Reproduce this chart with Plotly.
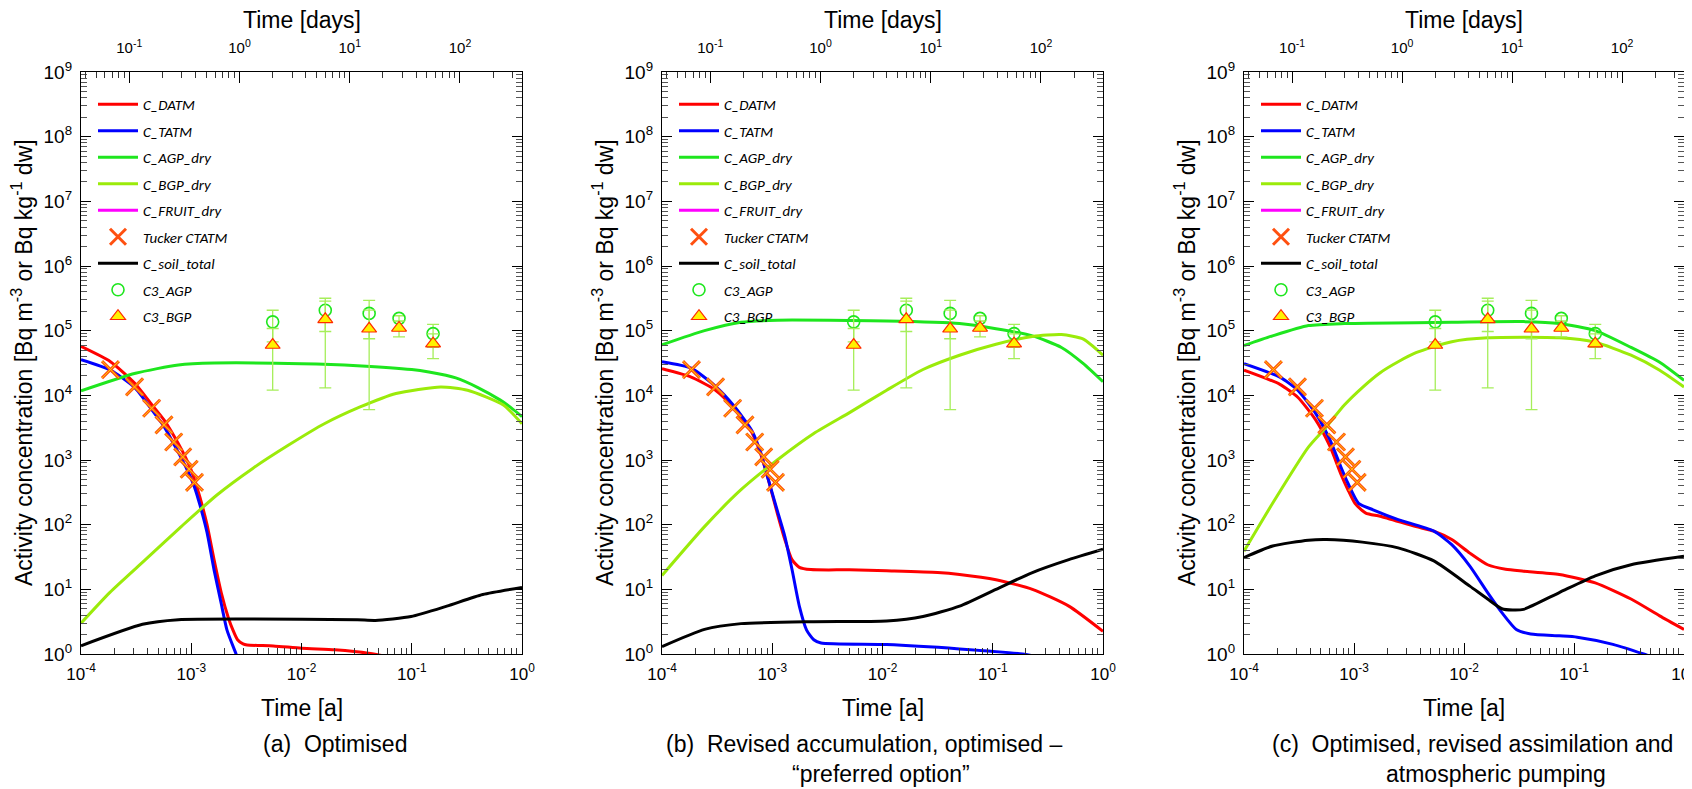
import math
import plotly.graph_objects as go

# ---------------- data ----------------
# measured plant data (time in days)
sample_days = [2, 6, 15, 28, 57]
c3_agp = [1.37e5, 2.07e5, 1.85e5, 1.55e5, 9.0e4]
c3_agp_err = [7.0e4, 1.1e5, 1.1e5, 1.5e4, 3.5e4]
c3_bgp = [6.0e4, 1.5e5, 1.07e5, 1.1e5, 6.3e4]
c3_bgp_err = [4.8e4, 1.37e5, 1.01e5, 3.0e4, 2.6e4]

# Tucker CTATM (time in years)
tucker_t = [1.85e-4, 3.06e-4, 4.37e-4, 5.66e-4, 6.93e-4, 8.36e-4, 9.57e-4, 1.07e-3]
tucker_c = [2.5e4, 1.35e4, 6.3e3, 3.5e3, 1.9e3, 1.12e3, 7.2e2, 4.5e2]

# ---- panel (a) Optimised ----
a_datm_t = [1e-4, 1.85e-4, 3.06e-4, 4.37e-4, 5.66e-4, 6.93e-4, 8.36e-4, 9.57e-4, 1.07e-3, 1.20e-3,
            1.39e-3, 1.61e-3, 1.87e-3, 2.18e-3, 2.39e-3, 2.63e-3, 2.95e-3, 3.21e-3, 5.56e-3, 1.0e-2,
            2.0e-2, 3.16e-2, 4.52e-2, 5.62e-2]
a_datm = [5.7e4, 3.31e4, 1.55e4, 7.24e3, 4.17e3, 2.40e3, 1.35e3, 832, 501, 263,
          100, 28.8, 8.91, 3.55, 2.34, 1.66, 1.43, 1.38, 1.33, 1.23,
          1.16, 1.08, 1.0, 0.93]
a_tatm_t = [1e-4, 1.85e-4, 3.06e-4, 4.37e-4, 5.66e-4, 6.93e-4, 8.36e-4, 9.57e-4, 1.07e-3, 1.20e-3,
            1.39e-3, 1.61e-3, 1.87e-3, 2.11e-3, 2.55e-3, 2.82e-3]
a_tatm = [3.55e4, 2.45e4, 1.32e4, 6.03e3, 3.31e3, 1.78e3, 977, 603, 380, 200,
          75.9, 20.0, 6.03, 2.34, 1.0, 0.63]
a_agp_t = [1e-4, 3.12e-4, 7.64e-4, 1.61e-3, 1.0e-2, 3.21e-2, 0.1, 0.143, 0.251, 0.398, 0.631, 0.794, 1.0]
a_agp = [1.17e4, 2.19e4, 2.95e4, 3.16e4, 3.09e4, 2.88e4, 2.51e4, 2.29e4, 1.86e4, 1.32e4, 8.51e3, 6.46e3, 4.68e3]
a_bgp_t = [1e-4, 1.82e-4, 3.84e-4, 8.11e-4, 1.71e-3, 3.61e-3, 7.64e-3, 1.61e-2, 3.40e-2, 7.19e-2,
           0.183, 0.321, 0.678, 1.0]
a_bgp = [3.0, 8.91, 28.8, 93.3, 288, 741, 1.70e3, 3.63e3, 6.61e3, 1.07e4,
         1.35e4, 1.20e4, 7.08e3, 3.63e3]
a_soil_t = [1e-4, 3.61e-4, 7.64e-4, 3.40e-3, 3.21e-2, 4.68e-2, 9.86e-2, 0.208, 0.440, 1.0]
a_soil = [1.34, 2.88, 3.39, 3.47, 3.39, 3.31, 3.80, 5.50, 8.32, 10.7]

# ---- panel (b) Revised accumulation, optimised ----
b_datm_t = [1e-4, 1.84e-4, 3.06e-4, 4.48e-4, 6.55e-4, 7.91e-4, 9.20e-4, 1.11e-3, 1.30e-3, 1.51e-3,
            1.76e-3, 2.24e-3, 5.01e-3, 1.09e-2, 3.16e-2, 5.0e-2, 0.107, 0.229, 0.490, 1.0]
b_datm = [2.57e4, 1.91e4, 1.20e4, 6.31e3, 2.63e3, 1.20e3, 501, 151, 58.9, 28.8,
          21.9, 20.2, 20.0, 19.3, 18.2, 17.0, 14.1, 10.0, 5.50, 2.24]
b_tatm_t = [1e-4, 1.84e-4, 3.06e-4, 4.48e-4, 6.55e-4, 7.91e-4, 9.20e-4, 1.11e-3, 1.30e-3, 1.51e-3,
            1.76e-3, 2.05e-3, 2.38e-3, 2.77e-3, 1.09e-2, 5.0e-2, 0.187, 0.251]
b_tatm = [3.31e4, 2.63e4, 1.38e4, 6.92e3, 2.82e3, 1.26e3, 501, 166, 66.1, 20.4,
          5.50, 2.34, 1.66, 1.48, 1.40, 1.20, 1.0, 0.91]
b_agp_t = [1e-4, 2.43e-4, 5.21e-4, 1.11e-3, 1.09e-2, 5.0e-2, 0.107, 0.229, 0.420, 0.664, 1.0]
b_agp = [6.03e4, 1.0e5, 1.35e5, 1.45e5, 1.41e5, 1.29e5, 1.07e5, 8.32e4, 5.50e4, 3.09e4, 1.62e4]
b_bgp_t = [1e-4, 2.43e-4, 5.21e-4, 1.11e-3, 2.38e-3, 5.11e-3, 1.09e-2, 2.33e-2, 5.0e-2, 0.107,
           0.229, 0.420, 0.664, 1.0]
b_bgp = [16.4, 93.3, 347, 1.0e3, 2.57e3, 5.50e3, 1.20e4, 2.51e4, 4.17e4, 6.17e4,
         8.13e4, 8.71e4, 7.41e4, 4.17e4]
b_soil_t = [1e-4, 2.43e-4, 5.21e-4, 2.38e-3, 1.09e-2, 2.33e-2, 5.0e-2, 0.107, 0.229, 0.490, 1.0]
b_soil = [1.30, 2.40, 2.95, 3.16, 3.24, 3.80, 5.50, 10.0, 18.2, 28.8, 41.7]

# ---- panel (c) Optimised, revised assimilation and atmospheric pumping ----
c_datm_t = [1e-4, 2.12e-4, 3.08e-4, 4.48e-4, 6.05e-4, 7.57e-4, 8.81e-4, 1.02e-3, 1.28e-3, 1.73e-3,
            3.66e-3, 5.32e-3, 7.74e-3, 1.13e-2, 1.64e-2, 2.39e-2, 3.48e-2, 7.35e-2, 0.156, 0.330,
            0.601, 1.0]
c_datm = [2.45e4, 1.48e4, 9.33e3, 4.17e3, 1.62e3, 617, 347, 214, 151, 135,
          93.3, 79.4, 58.9, 36.3, 24.0, 20.4, 19.1, 17.0, 12.6, 7.08,
          3.89, 2.40]
c_tatm_t = [1e-4, 2.12e-4, 3.08e-4, 4.48e-4, 6.05e-4, 7.57e-4, 8.81e-4, 1.10e-3, 1.49e-3, 2.52e-3,
            5.32e-3, 7.74e-3, 1.13e-2, 1.64e-2, 2.21e-2, 2.99e-2, 4.04e-2, 7.35e-2, 0.107, 0.226,
            0.429, 0.501]
c_tatm = [3.09e4, 1.91e4, 1.20e4, 5.25e3, 2.04e3, 794, 437, 214, 170, 120,
          79.4, 49.0, 22.9, 8.91, 4.37, 2.40, 2.04, 1.91, 1.82, 1.41,
          1.0, 0.91]
c_agp_t = [1e-4, 1.82e-4, 3.85e-4, 8.17e-4, 7.74e-3, 3.48e-2, 7.35e-2, 0.156, 0.330, 0.601, 1.0]
c_agp = [5.89e4, 8.32e4, 1.20e5, 1.29e5, 1.35e5, 1.38e5, 1.29e5, 1.0e5, 5.50e4, 3.24e4, 1.70e4]
c_bgp_t = [1e-4, 1.82e-4, 3.85e-4, 5.53e-4, 8.17e-4, 1.19e-3, 1.73e-3, 2.52e-3, 3.66e-3, 7.74e-3,
           1.64e-2, 7.35e-2, 0.156, 0.330, 0.601, 1.0]
c_bgp = [38.9, 214, 1.58e3, 3.16e3, 7.08e3, 1.32e4, 2.24e4, 3.31e4, 4.57e4, 6.76e4,
         7.76e4, 7.76e4, 6.61e4, 4.17e4, 2.45e4, 1.35e4]
c_soil_t = [1e-4, 1.82e-4, 3.85e-4, 5.61e-4, 1.19e-3, 2.52e-3, 5.32e-3, 1.13e-2, 1.64e-2, 2.21e-2,
            2.77e-2, 3.48e-2, 7.35e-2, 0.156, 0.330, 1.0]
c_soil = [30.9, 46.8, 57.5, 58.9, 53.7, 43.7, 27.5, 11.2, 7.08, 5.01,
          4.79, 4.90, 8.91, 16.2, 24.0, 32.4]

captions = [
    ["(a)  Optimised"],
    ["(b)  Revised accumulation, optimised \u2013", "\u201cpreferred option\u201d"],
    ["(c)  Optimised, revised assimilation and", "atmospheric pumping"],
]

x_tick_vals = [1e-4, 1e-3, 1e-2, 1e-1, 1]
x_tick_text = ["10<sup>-4</sup>", "10<sup>-3</sup>", "10<sup>-2</sup>", "10<sup>-1</sup>", "10<sup>0</sup>"]
y_tick_vals = [1, 10, 1e2, 1e3, 1e4, 1e5, 1e6, 1e7, 1e8, 1e9]
y_tick_text = ["10<sup>%d</sup>" % k for k in range(10)]
d_tick_vals = [0.1, 1, 10, 100]
d_tick_text = ["10<sup>-1</sup>", "10<sup>0</sup>", "10<sup>1</sup>", "10<sup>2</sup>"]

# ---------------- styling / layout ----------------
W, H = 1692, 789
OFF = 8  # page offset of the plot div (body margin); positions below are page pixels
PANEL_X = [(81, 522), (662, 1103), (1244, 1684)]
TOP, BOT = 72, 654
CAP_X = [[335], [864, 881], [1472, 1496]]
CAP_Y = [744, 774]
FN = "Liberation Sans Narrow, Arial Narrow, Liberation Sans, Arial, sans-serif"
FR = "Liberation Sans, Arial, sans-serif"
FL = "Carlito, Lato, Open Sans, sans-serif"

COL = dict(datm="#FF0000", tatm="#0000FF", agp="#1EE61E", bgp="#9BEB0A", fruit="#FF00FF", soil="#000000")
ERR = "#A6EE5A"

x_minor = [m * 10.0 ** e for e in range(-4, 0) for m in range(2, 10)]
y_minor = [m * 10.0 ** e for e in range(0, 9) for m in range(2, 10)]
d_minor = [v for v in (m * 10.0 ** e for e in range(-2, 3) for m in range(2, 10)) if 0.0365 <= v <= 365.25]

panel_series = [
    (a_datm_t, a_datm, a_tatm_t, a_tatm, a_agp_t, a_agp, a_bgp_t, a_bgp, a_soil_t, a_soil),
    (b_datm_t, b_datm, b_tatm_t, b_tatm, b_agp_t, b_agp, b_bgp_t, b_bgp, b_soil_t, b_soil),
    (c_datm_t, c_datm, c_tatm_t, c_tatm, c_agp_t, c_agp, c_bgp_t, c_bgp, c_soil_t, c_soil),
]


def px(x):
    return (x - OFF) / W


def py(y):
    return 1 - (y - OFF) / H


fig = go.Figure()
ydom = [py(BOT), py(TOP)]


def ann(x, y, text, font, angle=0):
    fig.add_annotation(x=px(x), y=py(y), xref="paper", yref="paper", text=text,
                       xanchor="center", yanchor="middle", showarrow=False, textangle=angle,
                       font=font)


for i, (x0, x1) in enumerate(PANEL_X):
    n = i + 1
    sx = "" if n == 1 else str(n)
    xb, yb, xt = "x" + sx, "y" + sx, "x" + str(n + 3)
    leg = "legend" + sx
    dt, dv, tt, tv, at, av, bt, bv, st, sv = panel_series[i]

    def line(tx, vy, name, col, key):
        fig.add_trace(go.Scatter(x=tx, y=vy, name=name, mode="lines",
                                 line=dict(color=col, width=3, shape="spline", smoothing=0.6),
                                 xaxis=xb, yaxis=yb, legend=leg, legendgroup=f"{key}{n}"))

    line(dt, dv, "C_DATM", COL["datm"], "datm")
    line(tt, tv, "C_TATM", COL["tatm"], "tatm")
    line(at, av, "C_AGP_dry", COL["agp"], "agp")
    line(bt, bv, "C_BGP_dry", COL["bgp"], "bgp")
    fig.add_trace(go.Scatter(x=[None], y=[None], name="C_FRUIT_dry", mode="lines",
                             line=dict(color=COL["fruit"], width=3), xaxis=xb, yaxis=yb,
                             legend=leg, legendgroup=f"fruit{n}"))
    fig.add_trace(go.Scatter(x=tucker_t, y=tucker_c, name="Tucker CTATM", mode="markers",
                             marker=dict(symbol="x-thin", size=17, color="#FF5010",
                                         line=dict(color="#FF5010", width=3)),
                             xaxis=xb, yaxis=yb, legend=leg, legendgroup=f"tuck{n}"))
    fig.add_trace(go.Scatter(x=tucker_t, y=tucker_c, mode="markers", showlegend=False,
                             marker=dict(symbol="x-thin", size=17, color="#FFD000",
                                         line=dict(color="#FFD000", width=1)),
                             xaxis=xb, yaxis=yb, legendgroup=f"tuck{n}", hoverinfo="skip"))
    line(st, sv, "C_soil_total", COL["soil"], "soil")
    fig.add_trace(go.Scatter(x=sample_days, y=c3_agp, name="C3_AGP", mode="markers",
                             marker=dict(symbol="circle-open", size=12, color=COL["agp"],
                                         line=dict(width=1.6)),
                             error_y=dict(type="data", array=c3_agp_err, color=ERR, thickness=1.3, width=6),
                             xaxis=xt, yaxis=yb, legend=leg, legendgroup=f"c3a{n}"))
    fig.add_trace(go.Scatter(x=sample_days, y=c3_bgp, name="C3_BGP", mode="markers",
                             marker=dict(symbol="triangle-up", size=13, color="#FFF200",
                                         line=dict(color="#FF2A00", width=1.2)),
                             error_y=dict(type="data", array=c3_bgp_err, color=ERR, thickness=1.3, width=6),
                             xaxis=xt, yaxis=yb, legend=leg, legendgroup=f"c3b{n}"))

    common = dict(showgrid=False, zeroline=False, showline=True, linecolor="black", linewidth=1.3,
                  ticks="inside", tickcolor="black", tickwidth=1.2, automargin=False)
    fig.update_layout({
        "xaxis" + sx: dict(type="log", range=[-4, 0], domain=[px(x0), px(x1)], anchor=yb,
                           tickmode="array", tickvals=x_tick_vals, ticktext=x_tick_text, ticklen=11,
                           ticklabelstandoff=4,
                           tickfont=dict(family=FN, size=17, color="black"),
                           minor=dict(tickmode="array", tickvals=x_minor, ticks="inside", ticklen=6,
                                      tickcolor="#333", tickwidth=1),
                           **common),
        "xaxis" + str(n + 3): dict(type="log", range=[math.log10(0.0365), math.log10(365.25)],
                                   overlaying=xb, side="top", anchor=yb,
                                   tickmode="array", tickvals=d_tick_vals, ticktext=d_tick_text, ticklen=11,
                                   ticklabelstandoff=12,
                                   tickfont=dict(family=FN, size=15, color="black"),
                                   minor=dict(tickmode="array", tickvals=d_minor, ticks="inside", ticklen=6,
                                              tickcolor="#333", tickwidth=1),
                                   **common),
        "yaxis" + sx: dict(type="log", range=[0, 9], domain=ydom, anchor=xb, mirror="ticks",
                           tickmode="array", tickvals=y_tick_vals, ticktext=y_tick_text, ticklen=10,
                           ticklabelstandoff=4,
                           tickfont=dict(family=FN, size=19, color="black"),
                           minor=dict(tickmode="array", tickvals=y_minor, ticks="inside", ticklen=6,
                                      tickcolor="#555", tickwidth=1),
                           **common),
        leg: dict(x=px(x0 + 12), y=py(88), xanchor="left", yanchor="top",
                  bgcolor="rgba(0,0,0,0)", borderwidth=0, traceorder="grouped", tracegroupgap=4,
                  font=dict(family=FL, size=15, color="black", style="italic"),
                  itemwidth=40),
    })

    cx = (x0 + x1) / 2
    ann(cx, 20, "Time [days]", dict(family=FN, size=23, color="black"))
    ann(cx, 708, "Time [a]", dict(family=FN, size=23, color="black"))
    ann(x0 - 59, (TOP + BOT) / 2, "Activity concentration [Bq m<sup>-3</sup> or Bq kg<sup>-1</sup> dw]",
        dict(family=FR, size=23, color="black"), angle=-90)
    for k, txt in enumerate(captions[i]):
        ann(CAP_X[i][k], CAP_Y[k], txt, dict(family=FR, size=23, color="black"))

fig.update_layout(width=W, height=H, margin=dict(l=0, r=0, t=0, b=0, autoexpand=False),
                  paper_bgcolor="white", plot_bgcolor="white")
fig.write_html("out.html")
